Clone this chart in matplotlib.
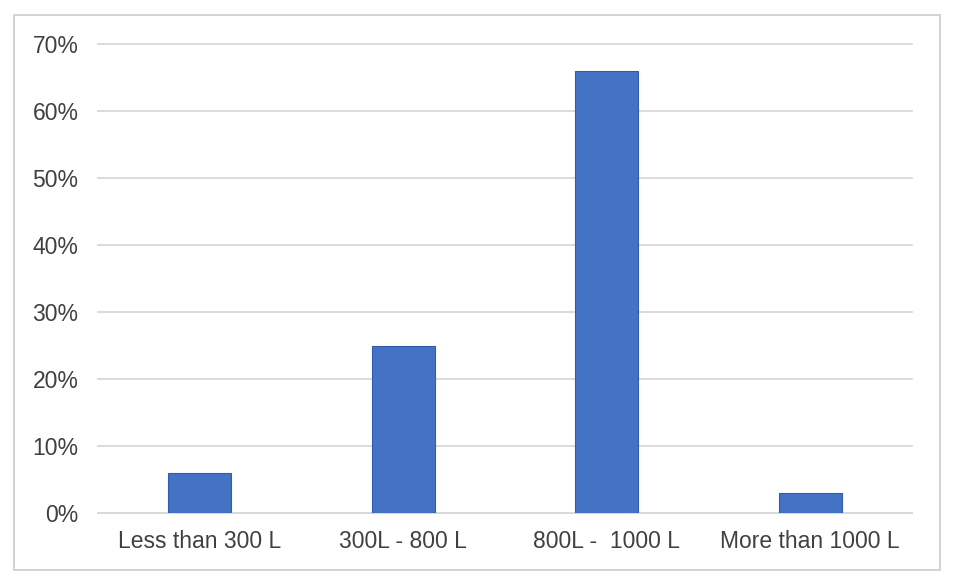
import matplotlib.pyplot as plt
from matplotlib.patches import Rectangle
from matplotlib.ticker import FuncFormatter

categories = ["Less than 300 L", "300L - 800 L", "800L -  1000 L", "More than 1000 L"]
shares = [6, 25, 66, 3]
y_ticks = [0, 10, 20, 30, 40, 50, 60, 70]

plt.rcParams['font.family'] = ['Liberation Sans', 'DejaVu Sans']

fig = plt.figure(figsize=(9.55, 5.86), dpi=100)
ax = fig.add_axes([98 / 955, 73 / 586, 814 / 955, 469 / 586])

x = range(len(categories))
ax.bar(x, shares, width=0.31, color='#4472C4', edgecolor='#2F5CB0', linewidth=0.8, zorder=3)

ax.set_xlim(-0.5, len(categories) - 0.5)
ax.set_ylim(0, 70)
ax.set_yticks(y_ticks)
ax.yaxis.set_major_formatter(FuncFormatter(lambda v, p: f"{v:.0f}%"))
ax.set_xticks(list(x))
ax.set_xticklabels(categories)

ax.grid(axis='y', color='#d9d9d9', linewidth=1.3, zorder=0)
for line in ax.get_ygridlines():
    line.set_clip_on(False)
for side in ['top', 'right', 'left']:
    ax.spines[side].set_visible(False)
ax.spines['bottom'].set_color('#d9d9d9')
ax.spines['bottom'].set_linewidth(1.3)

ax.tick_params(axis='both', length=0, labelsize=16.5, labelcolor='#404040')
ax.tick_params(axis='y', pad=14)
ax.tick_params(axis='x', pad=12.5)

# outer chart border
fig.patches.append(Rectangle((14 / 955, 16 / 586), 926 / 955, 555 / 586,
                             transform=fig.transFigure, fill=False,
                             edgecolor='#d0d0d0', linewidth=1.3))

fig.savefig('out.png', dpi=100)
